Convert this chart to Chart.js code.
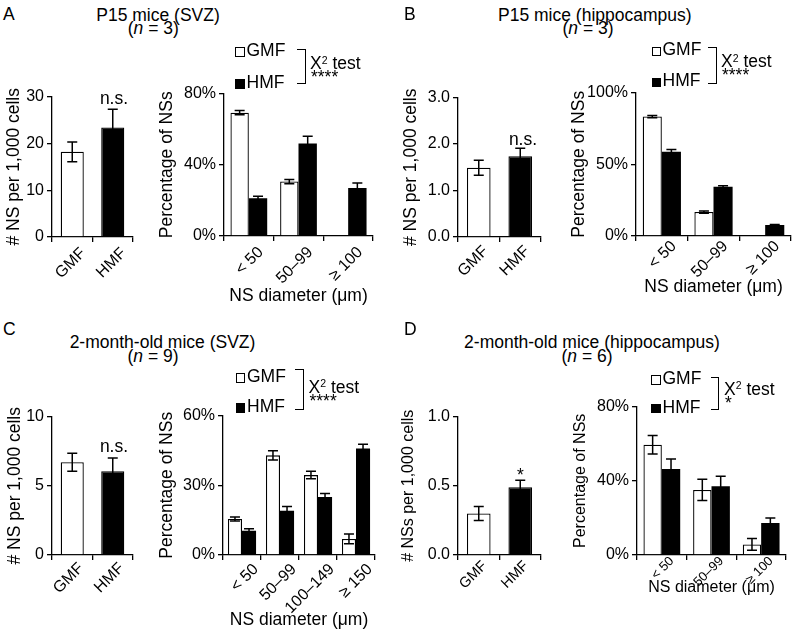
<!DOCTYPE html>
<html>
<head>
<meta charset="utf-8">
<script src="https://cdn.jsdelivr.net/npm/chart.js@4.4.1/dist/chart.umd.min.js"></script>
<style>
  body { margin: 0; background: #fff; }
  #fig { position: relative; width: 794px; height: 635px; overflow: hidden;
         font-family: 'Liberation Sans', Arial, sans-serif; color: #000; }
  #fig canvas { position: absolute; }
  .t { position: absolute; line-height: 0; font-size: 17.5px; white-space: nowrap; }
  .c { transform: translateX(-50%); }
  .box { position: absolute; width: 9.5px; height: 9.5px; box-sizing: border-box; border: 1.3px solid #000; }
  .brk { position: absolute; box-sizing: border-box; border: 1.3px solid #000; border-left: none; }
  .sup { font-size: 10.5px; position: relative; top: -5.5px; }
</style>
</head>
<body>
<div id="fig">
  <canvas id="aLeft"></canvas>
  <canvas id="aRight"></canvas>
  <canvas id="bLeft"></canvas>
  <canvas id="bRight"></canvas>
  <canvas id="cLeft"></canvas>
  <canvas id="cRight"></canvas>
  <canvas id="dLeft"></canvas>
  <canvas id="dRight"></canvas>
</div>
<script>
// ---- data ----
const groups = ['GMF', 'HMF'];
const bins3 = ['< 50', '50–99', '≥ 100'];
const bins4 = ['< 50', '50–99', '100–149', '≥ 150'];

// A: P15 mice, SVZ
const p15SvzCount = [18.2, 23.4];
const p15SvzCountErr = [2.1, 3.9];
const p15SvzGMF = [69.3, 30.6, 0];
const p15SvzGMFErr = [1.2, 1.2, null];
const p15SvzHMF = [21.2, 52.0, 27.0];
const p15SvzHMFErr = [1.2, 4.0, 2.8];

// B: P15 mice, hippocampus
const p15HipCount = [1.49, 1.74];
const p15HipCountErr = [0.16, 0.17];
const p15HipGMF = [83.3, 16.7, 0];
const p15HipGMFErr = [0.8, 0.8, null];
const p15HipHMF = [58.8, 34.3, 7.6];
const p15HipHMFErr = [1.5, 0.7, 0.4];

// C: 2-month-old mice, SVZ
const adultSvzCount = [6.7, 6.05];
const adultSvzCountErr = [0.65, 0.95];
const adultSvzGMF = [15.5, 42.9, 34.4, 6.9];
const adultSvzGMFErr = [0.9, 2.0, 1.6, 2.1];
const adultSvzHMF = [10.4, 19.0, 25.0, 45.8];
const adultSvzHMFErr = [0.9, 1.9, 1.5, 1.9];

// D: 2-month-old mice, hippocampus
const adultHipCount = [0.30, 0.49];
const adultHipCountErr = [0.05, 0.05];
const adultHipGMF = [59.4, 35.1, 5.7];
const adultHipGMFErr = [5.0, 5.7, 3.2];
const adultHipHMF = [46.3, 37.0, 17.2];
const adultHipHMFErr = [5.4, 5.5, 2.7];

const SIZE = 17.5;
Chart.defaults.font.family = "'Liberation Sans', Arial, sans-serif";
Chart.defaults.font.size = 16;
Chart.defaults.color = '#000';

// mean +/- SEM whiskers, drawn through the y scale
const errorBars = {
  id: 'errorBars',
  afterDatasetsDraw(chart) {
    const ctx = chart.ctx;
    const y = chart.scales.y;
    chart.data.datasets.forEach((ds, i) => {
      if (!ds.errors) return;
      chart.getDatasetMeta(i).data.forEach((bar, j) => {
        const e = ds.errors[j];
        if (e == null) return;
        const v = ds.data[j];
        const top = y.getPixelForValue(v + e);
        const bot = y.getPixelForValue(v - e);
        ctx.save();
        ctx.strokeStyle = '#000';
        ctx.lineWidth = 1.5;
        ctx.beginPath();
        ctx.moveTo(bar.x, top); ctx.lineTo(bar.x, bot);
        ctx.moveTo(bar.x - 5, top); ctx.lineTo(bar.x + 5, top);
        ctx.moveTo(bar.x - 5, bot); ctx.lineTo(bar.x + 5, bot);
        ctx.stroke();
        ctx.restore();
      });
    });
  }
};

function barChart(id, box, area, o) {
  const el = document.getElementById(id);
  el.width = box.r - box.l;
  el.height = box.b - box.t;
  el.style.left = box.l + 'px';
  el.style.top = box.t + 'px';
  const yw = area.l - box.l;
  const xh = box.b - area.b;
  const titleSize = o.titleSize || SIZE;
  return new Chart(el, {
    type: 'bar',
    data: { labels: o.labels, datasets: o.datasets },
    options: {
      responsive: false,
      animation: false,
      layout: { padding: { left: 0, top: area.t - box.t, right: box.r - area.r, bottom: 0 } },
      plugins: { legend: { display: false }, tooltip: { enabled: false } },
      scales: {
        x: {
          z: 1,
          grid: { drawOnChartArea: false, offset: true, tickLength: 5, color: '#000', lineWidth: 1.3 },
          border: { color: '#000', width: 1.3 },
          ticks: { minRotation: 45, maxRotation: 45, autoSkip: false, labelOffset: o.lo, padding: o.pad,
                   font: { size: o.xTickSize || 16 } },
          title: { display: !!o.xTitle, text: o.xTitle, padding: 0, font: { size: titleSize } },
          afterFit: s => { s.height = xh; }
        },
        y: {
          z: 1,
          min: 0,
          max: o.max,
          ticks: { stepSize: o.step, padding: 3, callback: o.fmt },
          grid: { drawOnChartArea: false, tickLength: 5, color: '#000', lineWidth: 1.3 },
          border: { color: '#000', width: 1.3 },
          title: { display: true, text: o.yTitle, padding: 0, font: { size: titleSize } },
          afterFit: s => { s.width = yw; }
        }
      }
    },
    plugins: [errorBars]
  });
}

function countSet(data, errors) {
  return [{ data, errors, backgroundColor: ['#fff', '#000'], borderColor: '#000',
            borderWidth: 1.3, barPercentage: 0.57, categoryPercentage: 1 }];
}
function sizeSets(gmf, gmfErr, hmf, hmfErr) {
  return [
    { label: 'GMF', data: gmf, errors: gmfErr, backgroundColor: '#fff', borderColor: '#000',
      borderWidth: 1.3, barPercentage: 1, categoryPercentage: 0.74 },
    { label: 'HMF', data: hmf, errors: hmfErr, backgroundColor: '#000', borderColor: '#000',
      borderWidth: 0, barPercentage: 1, categoryPercentage: 0.74 }
  ];
}
const pct = v => v + '%';
const dec1 = v => v.toFixed(1);
const xTitle = 'NS diameter (μm)';

barChart('aLeft', { l: 4, t: 84, r: 143, b: 292 }, { l: 52, r: 133, t: 96, b: 237 },
  { labels: groups, datasets: countSet(p15SvzCount, p15SvzCountErr), max: 30, step: 10,
    yTitle: '# NS per 1,000 cells', lo: 11, pad: 2 });
barChart('aRight', { l: 157, t: 81, r: 383, b: 307 }, { l: 224, r: 373, t: 93, b: 236 },
  { labels: bins3, datasets: sizeSets(p15SvzGMF, p15SvzGMFErr, p15SvzHMF, p15SvzHMFErr),
    max: 80, step: 40, fmt: pct, yTitle: 'Percentage of NSs', xTitle, lo: 12, pad: 2 });

barChart('bLeft', { l: 401, t: 85, r: 551, b: 292 }, { l: 458, r: 541, t: 97, b: 237 },
  { labels: groups, datasets: countSet(p15HipCount, p15HipCountErr), max: 3, step: 1, fmt: dec1,
    yTitle: '# NS per 1,000 cells', lo: 7, pad: 0 });
barChart('bRight', { l: 569, t: 80, r: 794, b: 298 }, { l: 636, r: 791, t: 92, b: 236 },
  { labels: bins3, datasets: sizeSets(p15HipGMF, p15HipGMFErr, p15HipHMF, p15HipHMFErr),
    max: 100, step: 50, fmt: pct, yTitle: 'Percentage of NSs', xTitle, lo: 12, pad: -4 });

barChart('cLeft', { l: 5, t: 404, r: 143, b: 612 }, { l: 52, r: 133, t: 416, b: 555 },
  { labels: groups, datasets: countSet(adultSvzCount, adultSvzCountErr), max: 10, step: 5,
    yTitle: '# NS per 1,000 cells', lo: 9, pad: -1 });
barChart('cRight', { l: 157, t: 403, r: 385, b: 631 }, { l: 223, r: 375, t: 415, b: 555 },
  { labels: bins4, datasets: sizeSets(adultSvzGMF, adultSvzGMFErr, adultSvzHMF, adultSvzHMFErr),
    max: 60, step: 30, fmt: pct, yTitle: 'Percentage of NSs', xTitle, lo: 14, pad: 0 });

barChart('dLeft', { l: 399, t: 404, r: 551, b: 612 }, { l: 458, r: 541, t: 416, b: 555 },
  { labels: groups, datasets: countSet(adultHipCount, adultHipCountErr), max: 1, step: 0.5, fmt: dec1,
    yTitle: '# NSs per 1,000 cells', lo: 6, pad: -2.5, xTickSize: 14.5, titleSize: 16 });
barChart('dRight', { l: 571, t: 394, r: 794, b: 597 }, { l: 637, r: 786, t: 406, b: 555 },
  { labels: bins3, datasets: sizeSets(adultHipGMF, adultHipGMFErr, adultHipHMF, adultHipHMFErr),
    max: 80, step: 40, fmt: pct, yTitle: 'Percentage of NSs', xTitle, lo: 10, pad: -6.5,
    xTickSize: 13, titleSize: 16 });

// ---- text, legends and brackets ----
const fig = document.getElementById('fig');
function txt(html, x, base, centered) {
  const d = document.createElement('div');
  d.className = 't' + (centered ? ' c' : '');
  d.innerHTML = html;
  d.style.left = x + 'px';
  d.style.top = (base - 0.3465 * SIZE) + 'px';
  fig.appendChild(d);
}
function legend(g) {
  const w = document.createElement('div');
  w.className = 'box';
  w.style.left = g.bx + 'px'; w.style.top = g.gy + 'px'; w.style.background = '#fff';
  fig.appendChild(w);
  const k = document.createElement('div');
  k.className = 'box';
  k.style.left = g.bx + 'px'; k.style.top = g.hy + 'px'; k.style.background = '#000';
  fig.appendChild(k);
  txt('GMF', g.tx, g.gb);
  txt('HMF', g.tx, g.hb);
  const br = document.createElement('div');
  br.className = 'brk';
  br.style.left = (g.kx - 8) + 'px'; br.style.width = '8.6px';
  br.style.top = g.k0 + 'px'; br.style.height = (g.k1 - g.k0) + 'px';
  fig.appendChild(br);
  txt('X<span class="sup">2</span> test', g.sx, g.sb);
  txt(g.stars, g.sx + 1, g.stb);
}

txt('A', 3, 20.5);
txt('P15 mice (SVZ)', 158, 20.7, true);
txt('(<i>n</i> = 3)', 153.3, 34.5, true);
txt('n.s.', 114, 104, true);
legend({ bx: 235, gy: 47, hy: 79, tx: 246.5, gb: 56.5, hb: 88.5, kx: 305, k0: 48.5, k1: 83.5,
         sx: 310, sb: 69.5, stars: '****', stb: 83 });

txt('B', 404, 20.5);
txt('P15 mice (hippocampus)', 594.8, 20.7, true);
txt('(<i>n</i> = 3)', 588, 34.5, true);
txt('n.s.', 523, 145, true);
legend({ bx: 651.5, gy: 46.5, hy: 77.5, tx: 662.5, gb: 55.5, hb: 86.5, kx: 716, k0: 47, k1: 84,
         sx: 721, sb: 67.5, stars: '****', stb: 81 });

txt('C', 3, 335);
txt('2-month-old mice (SVZ)', 162.5, 348.3, true);
txt('(<i>n</i> = 9)', 153, 362, true);
txt('n.s.', 114, 451.7, true);
legend({ bx: 235.5, gy: 373, hy: 403, tx: 247, gb: 382, hb: 412.5, kx: 303, k0: 368.5, k1: 410,
         sx: 308.5, sb: 393, stars: '****', stb: 407 });

txt('D', 404, 335);
txt('2-month-old mice (hippocampus)', 592, 348.3, true);
txt('(<i>n</i> = 6)', 587, 362, true);
txt('*', 520.5, 481.5, true);
legend({ bx: 651.3, gy: 375, hy: 403.5, tx: 662.5, gb: 384, hb: 413, kx: 718.5, k0: 377, k1: 410,
         sx: 724, sb: 395, stars: '*', stb: 409 });
</script>
</body>
</html>
